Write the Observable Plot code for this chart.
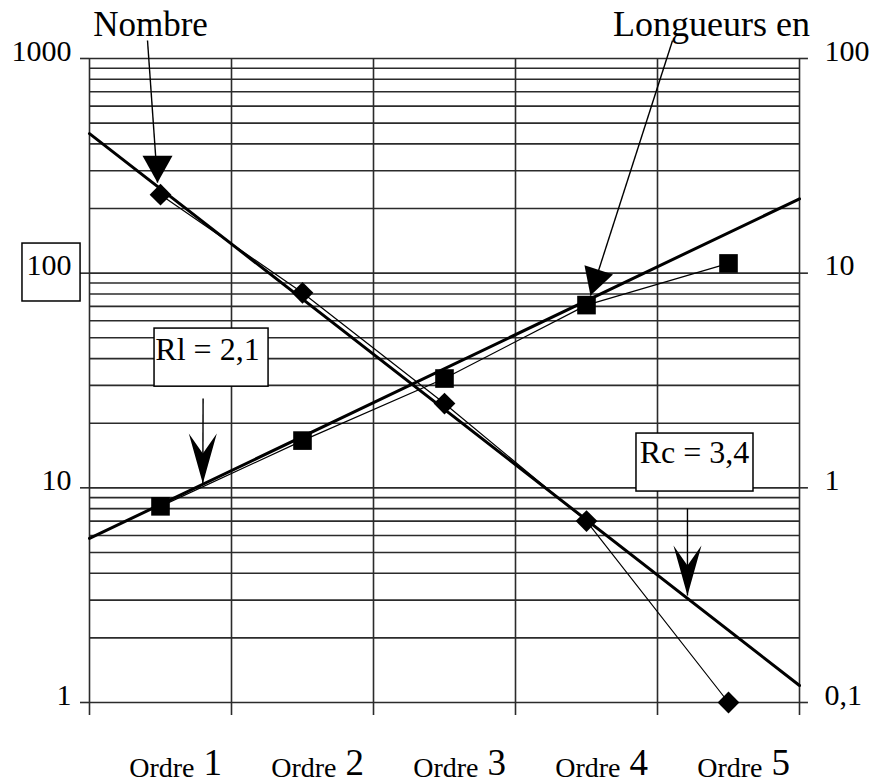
<!DOCTYPE html>
<html><head><meta charset="utf-8">
<script src="https://cdn.jsdelivr.net/npm/d3@7"></script>
<script src="https://cdn.jsdelivr.net/npm/@observablehq/plot@0.6"></script>
<style>body{margin:0;background:#fff}</style>
</head><body><div id="chart"></div>
<script>
// ---- data ----
const categories = ["Ordre 1", "Ordre 2", "Ordre 3", "Ordre 4", "Ordre 5"];
const orders = [1, 2, 3, 4, 5];
const nombre = [232, 81, 24.7, 7.0, 1.0];          // left axis
const longueurs = [0.82, 1.66, 3.23, 7.1, 11.1];   // right axis
const fitOrders = [0.5, 5.5];
const nombreFit = [447, 1.2];
const longueursFit = [0.581, 22.2];
const leftTicks = [1, 10, 100, 1000];
const leftLabels = ["1", "10", "100", "1000"];
const rightTicks = [0.1, 1, 10, 100];
const rightLabels = ["0,1", "1", "10", "100"];
const bounds = [0.5, 1.5, 2.5, 3.5, 4.5, 5.5];
const rightFactor = 10; // left units per right unit

// annotations (data units)
const notes = [
  {text: "Nombre", x: 0.93, y: 1278, size: 35},
  {text: "Longueurs en", x: 4.88, y: 1278, size: 36},
  {text: "Rl = 2,1", x: 1.331, y: 39.2, size: 32},
  {text: "Rc = 3,4", x: 4.761, y: 13.1, size: 32}
];
const whiteBoxes = [
  {x1: 0.958, x2: 1.761, y1: 29.6, y2: 55.2},
  {x1: 4.352, x2: 5.176, y1: 9.61, y2: 17.9}
];
const labelBox = [{x1: 0.028, x2: 0.437, y1: 73.8, y2: 137.4}];
const arrows = [
  {x1: 0.9085, y1: 1212, x2: 0.979, y2: 264, head: "tri", angle: 180},
  {x1: 4.606, y1: 1212, x2: 4.028, y2: 78.6, head: "tri", angle: 197.8},
  {x1: 1.30, y1: 26.1, x2: 1.298, y2: 10.47, head: "stealth", angle: 180},
  {x1: 4.711, y1: 8.01, x2: 4.711, y2: 3.15, head: "stealth", angle: 180}
];

// ---- helpers ----
const headShapes = {
  tri: [[0, 0], [15, 27], [-15, 27]],
  stealth: [[0, 0], [14, 50], [0, 30], [-14, 50]]
};
function headSymbol(name, angle) {
  const a = angle * Math.PI / 180, c = Math.cos(a), s = Math.sin(a);
  const pts = headShapes[name].map(([x, y]) => [x * c - y * s, x * s + y * c]);
  return {draw(ctx) {
    ctx.moveTo(pts[0][0], pts[0][1]);
    for (let i = 1; i < pts.length; i++) ctx.lineTo(pts[i][0], pts[i][1]);
    ctx.closePath();
  }};
}

const nombreData = orders.map((o, i) => ({order: o, value: nombre[i]}));
const longData = orders.map((o, i) => ({order: o, value: longueurs[i] * rightFactor}));
const nombreFitData = fitOrders.map((o, i) => ({order: o, value: nombreFit[i]}));
const longFitData = fitOrders.map((o, i) => ({order: o, value: longueursFit[i] * rightFactor}));
const gridVals = d3.scaleLog().domain([1, 1000]).ticks();

const grid = "#2b2b2b";
const plot = Plot.plot({
  width: 874, height: 784,
  marginLeft: 89, marginRight: 75, marginTop: 58, marginBottom: 82,
  x: {domain: [0.5, 5.5], axis: null},
  y: {type: "log", domain: [1, 1000], axis: null},
  style: {fontFamily: "'Liberation Serif','Times New Roman',serif", background: "#fff", color: "#000"},
  marks: [
    Plot.ruleY(gridVals, {stroke: grid, strokeWidth: 1.6}),
    Plot.ruleX(bounds, {y1: 0.87, y2: 1000, stroke: grid, strokeWidth: 1.6}),
    Plot.ruleY(leftTicks, {x1: 0.4366, x2: 0.5, stroke: grid, strokeWidth: 1.6}),
    Plot.ruleY(rightTicks, {y: d => d * rightFactor, x1: 5.5, x2: 5.563, stroke: grid, strokeWidth: 1.6}),
    Plot.text(leftTicks, {x: 0.5, y: d => d, text: (d, i) => leftLabels[i], dx: -18, dy: 2,
      textAnchor: "end", lineAnchor: "bottom", fontSize: 30}),
    Plot.text(rightTicks, {x: 5.5, y: d => d * rightFactor, text: (d, i) => rightLabels[i], dx: 25, dy: 2,
      textAnchor: "start", lineAnchor: "bottom", fontSize: 30}),
    Plot.rect(labelBox, {x1: "x1", x2: "x2", y1: "y1", y2: "y2", fill: "none", stroke: "#000", strokeWidth: 1.5}),
    Plot.rect(whiteBoxes, {x1: "x1", x2: "x2", y1: "y1", y2: "y2", fill: "#fff", stroke: "#000", strokeWidth: 1.5}),
    Plot.text(notes, {x: "x", y: "y", text: "text", fontSize: d => d.size, textAnchor: "middle", lineAnchor: "bottom"}),
    Plot.text(categories, {x: orders, frameAnchor: "bottom", text: d => d.split(" ")[0], dx: 34, dy: 74,
      textAnchor: "end", lineAnchor: "bottom", fontSize: 28}),
    Plot.text(categories, {x: orders, frameAnchor: "bottom", text: d => d.split(" ")[1], dx: 43, dy: 72,
      textAnchor: "start", lineAnchor: "bottom", fontSize: 37}),
    Plot.line(nombreData, {x: "order", y: "value", stroke: "#000", strokeWidth: 1.2}),
    Plot.line(longData, {x: "order", y: "value", stroke: "#000", strokeWidth: 1.2}),
    Plot.line(nombreFitData, {x: "order", y: "value", stroke: "#000", strokeWidth: 3}),
    Plot.line(longFitData, {x: "order", y: "value", stroke: "#000", strokeWidth: 3}),
    Plot.dot(nombreData, {x: "order", y: "value", symbol: "diamond2", r: 9.8, fill: "#000", stroke: "none"}),
    Plot.dot(longData, {x: "order", y: "value", symbol: "square", r: 10.5, fill: "#000", stroke: "none"}),
    Plot.link(arrows, {x1: "x1", y1: "y1", x2: "x2", y2: "y2", stroke: "#000", strokeWidth: 1.4}),
    ...arrows.map(a => Plot.dot([a], {x: "x2", y: "y2", r: 1, symbol: headSymbol(a.head, a.angle), fill: "#000", stroke: "none"}))
  ]
});
document.getElementById("chart").append(plot);
</script>
</body></html>
